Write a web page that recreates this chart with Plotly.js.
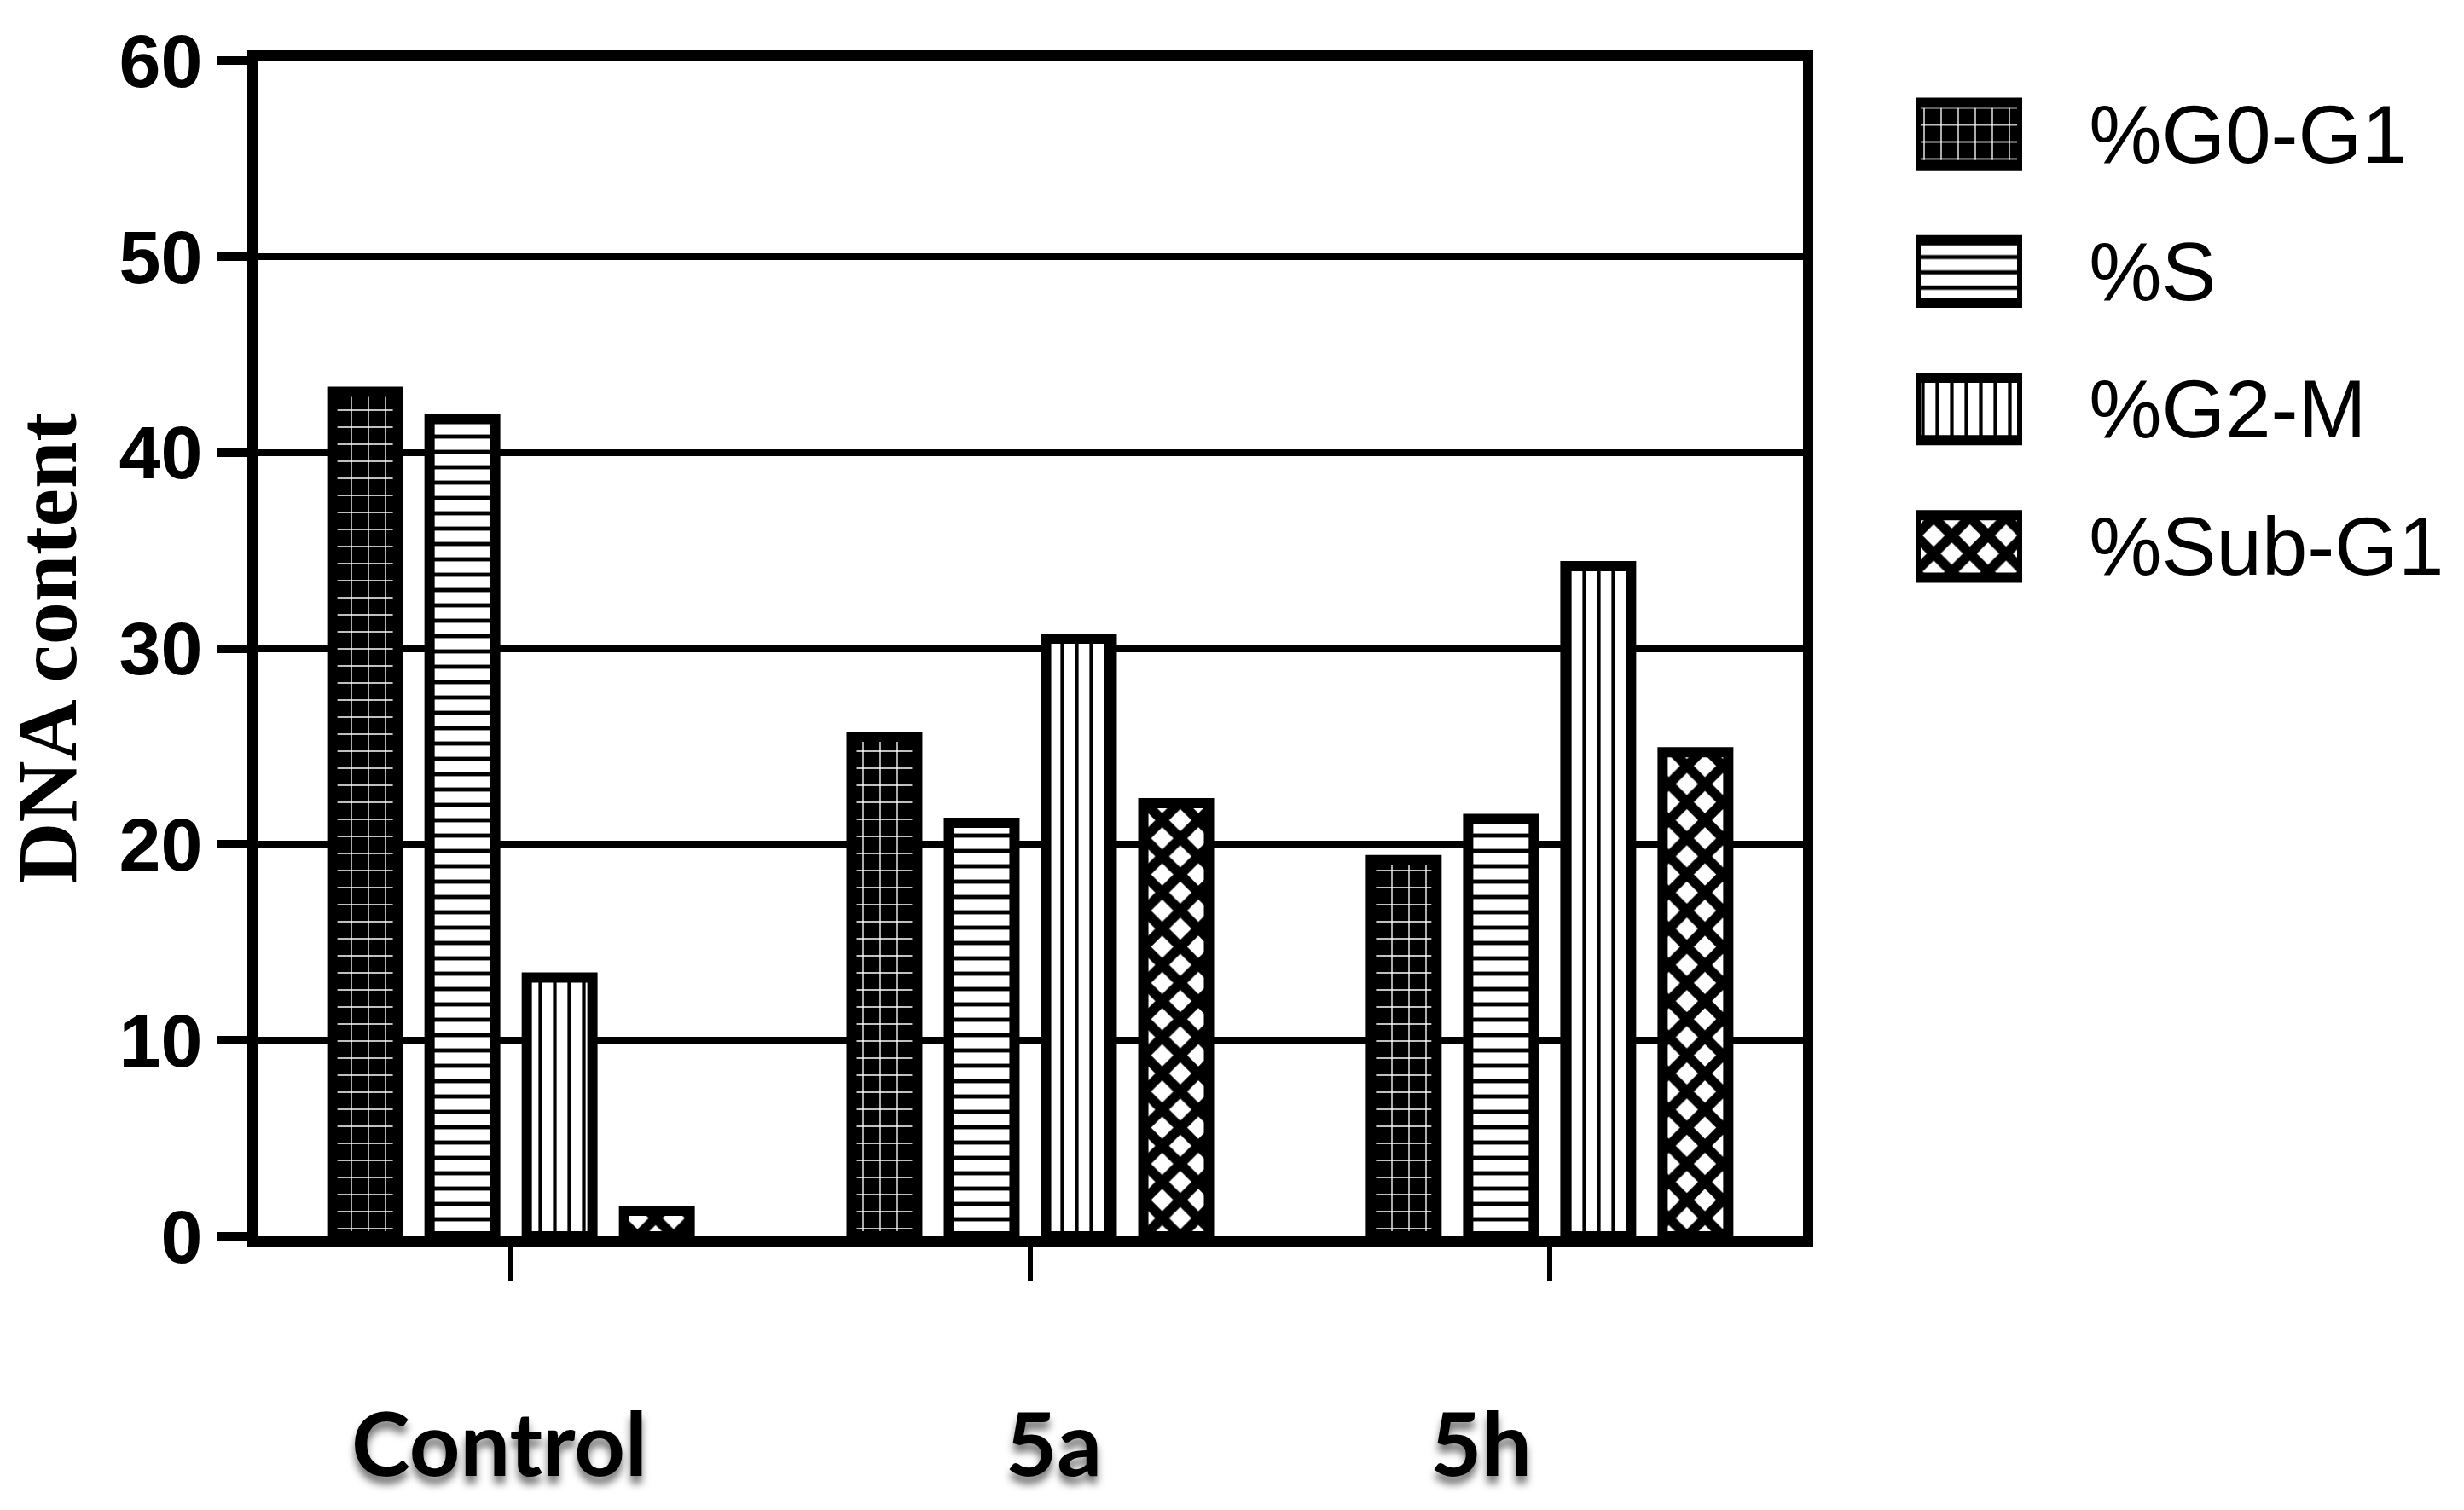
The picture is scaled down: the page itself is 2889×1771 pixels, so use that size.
<!DOCTYPE html>
<html><head><meta charset="utf-8">
<script src="https://cdn.plot.ly/plotly-3.0.1.min.js"></script>
<style>html,body{margin:0;padding:0;background:#fff}</style>
</head><body><div id="chart" style="width:2889px;height:1771px"></div>
<script>
// ---- data ----
const categories = ['Control', '5a', '5h'];
const seriesNames = ['%G0-G1', '%S', '%G2-M', '%Sub-G1'];
const g0g1  = [43.1, 25.5, 19.2];
const sPh   = [41.7, 21.1, 21.3];
const g2m   = [13.2, 30.5, 34.2];
const subG1 = [1.3, 22.1, 24.7];
const yTickVals = [0, 10, 20, 30, 40, 50, 60];
const legendKey = [1];

// ---- styles ----
const W = 2889, H = 1771;
const px = v => v / W, py = v => 1 - v / H;
const patterns = [
  {shape: '+', bgcolor: '#000', fgcolor: '#fff', size: 20, solidity: 0.13},
  {shape: '-', bgcolor: '#fff', fgcolor: '#000', size: 18, solidity: 0.27},
  {shape: '|', bgcolor: '#fff', fgcolor: '#000', size: 17, solidity: 0.25},
  {shape: 'x', bgcolor: '#fff', fgcolor: '#000', size: 30, solidity: 0.62}
];
const seriesValues = [g0g1, sPh, g2m, subG1];

const traces = seriesNames.map((name, i) => ({
  type: 'bar', name: name, x: categories, y: seriesValues[i],
  xaxis: 'x', yaxis: 'y', showlegend: false,
  marker: {color: patterns[i].bgcolor, line: {color: '#000', width: 12},
           pattern: Object.assign({}, patterns[i])}
}));

// legend key drawn as its own small subplot (one swatch per series)
seriesNames.forEach((name, i) => {
  traces.push({
    type: 'bar', orientation: 'h', x: legendKey, y: [name],
    xaxis: 'x2', yaxis: 'y2', showlegend: false, width: 0.453, offset: -0.2265,
    marker: {color: patterns[i].bgcolor, line: {color: '#000', width: 12},
             pattern: Object.assign({}, patterns[i])}
  });
});

const labelShift = [-14, 27, -80];
const annotations = categories.map((c, i) => ({
  xref: 'x', yref: 'paper', x: c, y: py(1690), xshift: labelShift[i],
  yanchor: 'middle', xanchor: 'center', showarrow: false, text: c,
  font: {family: 'Lato', weight: 'bold', size: 104, color: '#000',
         shadow: '0px 9px 10px rgba(0,0,0,0.55)'}
}));

const layout = {
  width: W, height: H,
  margin: {l: 0, r: 0, t: 0, b: 0},
  paper_bgcolor: '#fff', plot_bgcolor: '#fff',
  font: {family: 'Liberation Sans', color: '#000'},
  barmode: 'group', bargap: 0.251, bargroupgap: 0.325,
  xaxis: {
    domain: [px(302), px(2114)], range: [-0.488, 2.488],
    type: 'category', showticklabels: false,
    showline: true, linewidth: 12, linecolor: '#000', mirror: true,
    ticks: 'outside', ticklen: 40, tickwidth: 6, tickcolor: '#000',
    showgrid: false, zeroline: false, fixedrange: true
  },
  yaxis: {
    domain: [py(1450), py(71)], range: [0, 60],
    tickvals: yTickVals, ticks: 'outside', ticklen: 35, tickwidth: 10, tickcolor: '#000',
    tickfont: {family: 'Liberation Sans', weight: 'bold', size: 88, color: '#000'},
    showline: true, linewidth: 12, linecolor: '#000', mirror: true,
    showgrid: true, gridcolor: '#000', gridwidth: 8, zeroline: false,
    title: {text: 'DNA content', standoff: 36,
            font: {family: 'Liberation Serif', weight: 'bold', size: 100, color: '#000'}},
    fixedrange: true
  },
  xaxis2: {
    domain: [px(2246), px(2371)], range: [0, 1], anchor: 'y2',
    visible: false, fixedrange: true
  },
  yaxis2: {
    domain: [py(721.5), py(76.5)], range: [3.5, -0.5], anchor: 'x2',
    type: 'category', categoryorder: 'array', categoryarray: seriesNames,
    side: 'right', showline: false, showgrid: false, zeroline: false,
    ticks: 'outside', ticklen: 58, tickcolor: 'rgba(0,0,0,0)',
    tickfont: {family: 'Liberation Sans', size: 96, color: '#000'},
    fixedrange: true
  },
  annotations: annotations,
  showlegend: false
};

Plotly.newPlot('chart', traces, layout, {displayModeBar: false, staticPlot: true});
</script></body></html>
